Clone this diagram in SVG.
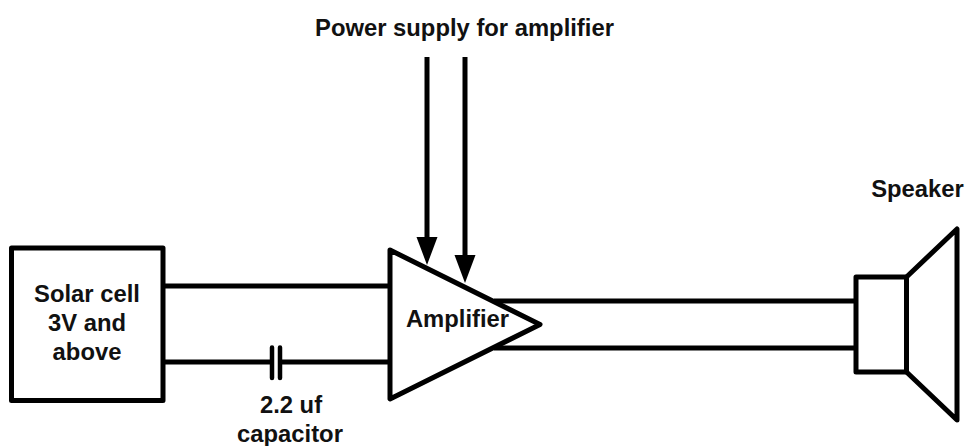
<svg xmlns="http://www.w3.org/2000/svg" width="966" height="446" viewBox="0 0 966 446">
<style>
.s{fill:none;stroke:#000;stroke-width:5;stroke-linejoin:round;stroke-linecap:butt}
.f{fill:#fff;stroke:#000;stroke-width:5;stroke-linejoin:round}
.t{font-family:"Liberation Sans",Arial,sans-serif;font-weight:700;font-size:23.800px;fill:#111;text-anchor:middle}
</style>
<rect width="966" height="446" fill="#fff"/>
<g id="connectors">
<path class="s" d="M163 286H390"/>
<path class="s" d="M163 362H272M280 362H390"/>
<path class="s" d="M494 301H857"/>
<path class="s" d="M494 348H857"/>
<path class="s" d="M427 57V240"/>
<path class="s" d="M465 57V258"/>
<path d="M416.500 237H437.500L427 265Z M454.500 255H475.500L465 283Z" fill="#000"/>
</g>
<g id="solar-cell">
<rect class="f" x="11.500" y="248" width="151.500" height="152.500"/>
<text class="t" x="87" y="302">Solar cell</text>
<text class="t" x="87" y="331">3V and</text>
<text class="t" x="87" y="359.500">above</text>
</g>
<g id="capacitor">
<path d="M272 347.500V378M280 347.500V378" fill="none" stroke="#000" stroke-width="4.500" stroke-linecap="round"/>
<text class="t" x="291" y="413">2.2 uf</text>
<text class="t" x="290" y="441.500">capacitor</text>
</g>
<g id="amplifier">
<path class="f" d="M390 250L540 324.500L390 399Z"/>
<text class="t" x="457.500" y="327">Amplifier</text>
</g>
<g id="speaker">
<path class="f" d="M906.500 277L957 229V420L906.500 372Z"/>
<rect class="f" x="856" y="277" width="50.500" height="95"/>
<text class="t" x="917.500" y="196.500">Speaker</text>
</g>
<g id="power-label">
<text class="t" x="464.500" y="36">Power supply for amplifier</text>
</g>
</svg>
